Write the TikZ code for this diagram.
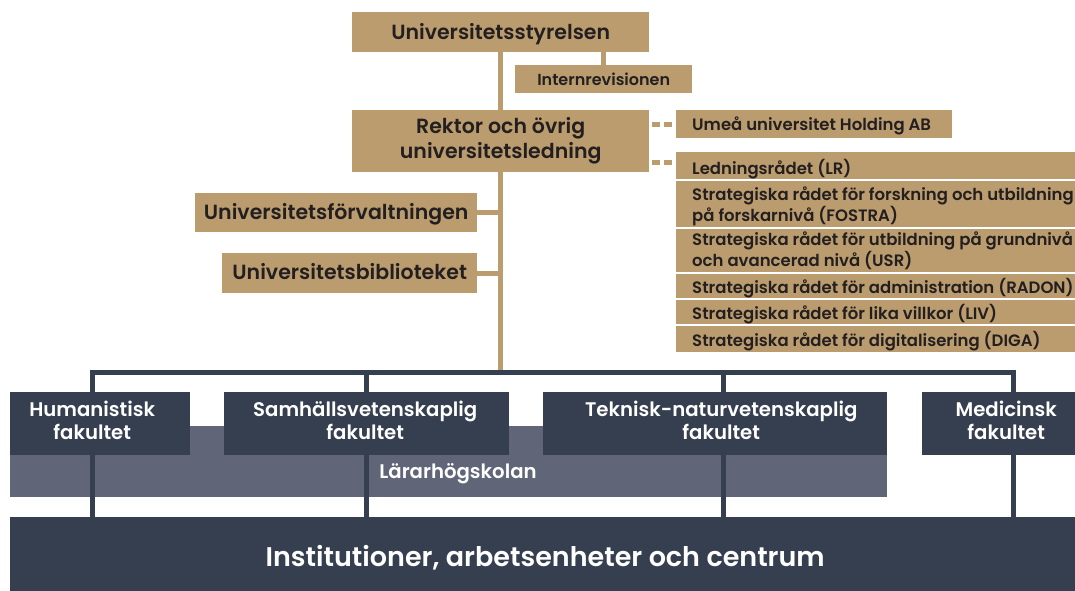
\documentclass[tikz,border=0pt]{standalone}
\usepackage{fontspec}
\setmainfont{Poppins}[BoldFont={Poppins SemiBold}]
\usetikzlibrary{calc}
\definecolor{tan}{RGB}{187,156,110}
\definecolor{navy}{RGB}{54,63,79}
\definecolor{slate}{RGB}{96,102,120}
\definecolor{ink}{RGB}{35,31,32}
\newcommand\down[2]{\raisebox{0pt}[\dimexpr\height+#1\relax][\dimexpr\depth-#1\relax]{#2}}
\newcommand\leftcell[3][2pt]{\makebox[#2][l]{\down{#1}{\begin{tabular}{@{}l@{}}#3\end{tabular}}}}
\newcommand\ctrcell[2]{\hspace*{#1}\begin{tabular}{@{}c@{}}#2\end{tabular}}
\begin{document}
\begin{tikzpicture}[x=1pt,y=-1pt,
  tanbox/.style={fill=tan, inner sep=0pt, text=ink, align=center, anchor=north west},
  bigtan/.style={tanbox, font=\fontsize{20.5}{25}\selectfont\bfseries},
  listbox/.style={fill=tan, inner ysep=0pt, inner xsep=16pt, text=ink, anchor=north west,
     font=\fontsize{16.5}{18}\selectfont\bfseries},
  facbox/.style={fill=navy, inner sep=0pt, text=white, anchor=north west,
     font=\fontsize{19.7}{23}\selectfont\bfseries},
  tanline/.style={draw=tan, line width=5pt},
  navyline/.style={draw=navy, line width=5pt, line join=miter},
  dashline/.style={draw=tan, line width=5pt, dash pattern=on 8pt off 4pt}]
\useasboundingbox[fill=white] (0,0) rectangle (1075,590);

% band
\node[fill=slate, inner sep=0pt, anchor=north west, minimum width=877pt, minimum height=71pt] (band) at (10,426) {};
\node[text=white, inner sep=0pt, font=\fontsize{19.7}{23}\selectfont\bfseries] (bandtext) at (458,474) {Lärarhögskolan};

% institutioner
\node[facbox, minimum width=1065pt, minimum height=85pt, font=\fontsize{27}{32}\selectfont\bfseries] (inst) at (10,517) {\ctrcell{5pt}{Institutioner, arbetsenheter och centrum}};

% dark connectors
\coordinate (cH) at (92,372);
\coordinate (cS) at (366,372);
\coordinate (cT) at (723,372);
\coordinate (cM) at (1013,372);
\draw[navyline] (cH |- inst.north) -- (cH) -- (cM) -- (cM |- inst.north);
\draw[navyline] (cS) -- (cS |- inst.north);
\draw[navyline] (cT) -- (cT |- inst.north);

% faculties
\node[facbox, minimum width=180pt, minimum height=63pt] (hum) at (10,392) {\ctrcell{-16pt}{Humanistisk\\fakultet}};
\node[facbox, minimum width=285pt, minimum height=63pt] (sam) at (224,392) {\ctrcell{-3pt}{Samhällsvetenskaplig\\fakultet}};
\node[facbox, minimum width=344pt, minimum height=63pt] (tek) at (543,392) {\ctrcell{12pt}{Teknisk-naturvetenskaplig\\fakultet}};
\node[facbox, minimum width=153pt, minimum height=63pt] (med) at (922,392) {\ctrcell{15pt}{Medicinsk\\fakultet}};

% top
\node[bigtan, minimum width=297pt, minimum height=40pt] (styr) at (352,12) {\down{2pt}{Universitetsstyrelsen}};
\node[tanbox, minimum width=177pt, minimum height=28pt, font=\fontsize{16}{18}\selectfont\bfseries] (intrev) at (515,65) {Internrevisionen};
\node[bigtan, minimum width=297pt, minimum height=62pt] (rektor) at (352,110) {Rektor och övrig\\universitetsledning};
\node[bigtan, minimum width=282pt, minimum height=39pt] (forv) at (195,193) {\down{2pt}{Universitetsförvaltningen}};
\node[bigtan, minimum width=255pt, minimum height=40pt] (bibl) at (222,253) {\down{-1.5pt}{Universitetsbiblioteket}};

% right list
\node[listbox, minimum height=28pt] (holding) at (676,110) {\leftcell{244pt}{Umeå universitet Holding AB}};
\node[listbox, minimum height=27pt] (lr) at (676,152) {\leftcell[4pt]{390pt}{Ledningsrådet (LR)}};
\node[listbox, minimum height=46pt] (fostra) at (676,181) {\leftcell[2.5pt]{390pt}{Strategiska rådet för forskning och utbildning\\på forskarnivå (FOSTRA)}};
\node[listbox, minimum height=43pt] (usr) at (676,229) {\leftcell[1pt]{390pt}{Strategiska rådet för utbildning på grundnivå\\och avancerad nivå (USR)}};
\node[listbox, minimum height=24pt] (radon) at (676,274) {\leftcell{390pt}{Strategiska rådet för administration (RADON)}};
\node[listbox, minimum height=24pt] (liv) at (676,300) {\leftcell{390pt}{Strategiska rådet för lika villkor (LIV)}};
\node[listbox, minimum height=26pt] (diga) at (676,326) {\leftcell{390pt}{Strategiska rådet för digitalisering (DIGA)}};

% tan connectors
\coordinate (jn) at (500.5,370);
\draw[tanline] (styr.south) -- (rektor.north);
\draw[tanline] (intrev.north) -- (intrev.north |- styr.south);
\draw[tanline] (rektor.south) -- (rektor.south |- jn);
\draw[tanline] (forv.east) -- (forv.east -| rektor.south);
\draw[tanline] (bibl.east) -- (bibl.east -| rektor.south);
\draw[dashline] ($(rektor.east |- holding.west)+(3,0)$) -- ($(holding.west)+(-4,0)$);
\draw[dashline] ($(rektor.south east)+(3,-10)$) -- ($(rektor.south east -| lr.west)+(-4,-10)$);
\end{tikzpicture}
\end{document}
